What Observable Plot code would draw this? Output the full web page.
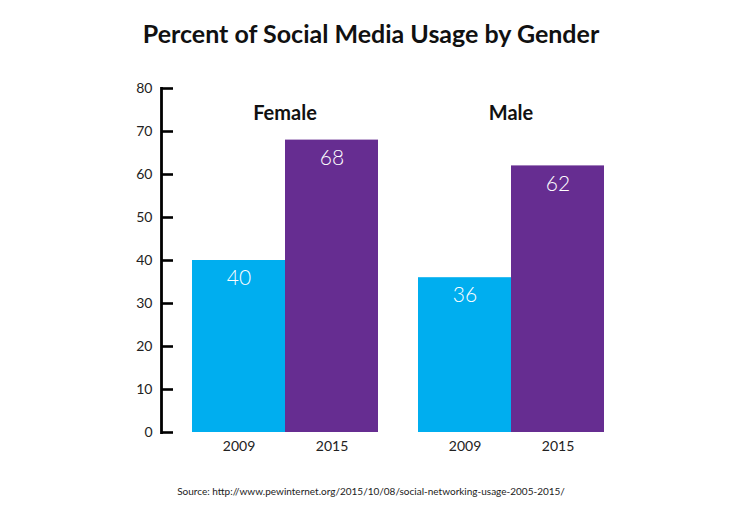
<!DOCTYPE html>
<html>
<head>
<meta charset="utf-8">
<script src="https://cdn.jsdelivr.net/npm/d3@7"></script>
<script src="https://cdn.jsdelivr.net/npm/@observablehq/plot@0.6"></script>
<style>
  body { margin: 0; background: #fff; font-family: Lato, "Open Sans", sans-serif; }
  #title { height: 66px; line-height: 66px; text-align: center; font-size: 25px; font-weight: 700; color: #111; }
  #caption { line-height: 50px; text-align: center; font-size: 10px; color: #222; }
  svg { display: block; }
</style>
</head>
<body>
<div id="title">Percent of Social Media Usage by Gender</div>
<div id="chart"></div>
<div id="caption">Source: http://www.pewinternet.org/2015/10/08/social-networking-usage-2005-2015/</div>
<script>
const genders = ["Female", "Male"];
const years = ["2009", "2015"];
const femaleValues = [40, 68];
const maleValues = [36, 62];
const yTicks = [0, 10, 20, 30, 40, 50, 60, 70, 80];
const colors = ["#00AEEF", "#662D91"];

const rows = [];
genders.forEach((g, gi) => {
  const vals = gi === 0 ? femaleValues : maleValues;
  years.forEach((yr, yi) => rows.push({gender: g, year: yr, value: vals[yi]}));
});

const chart = Plot.plot({
  width: 742,
  height: 400,
  marginTop: 22,
  marginBottom: 34,
  marginLeft: 191,
  marginRight: 137,
  style: {fontFamily: "Lato, 'Open Sans', sans-serif", fontSize: "14px", color: "#222"},
  fx: {domain: genders, paddingInner: 0.172, paddingOuter: 0, axis: null},
  x: {domain: years, padding: 0},
  y: {domain: [0, 80]},
  color: {domain: years, range: colors},
  marks: [
    Plot.barY(rows, {fx: "gender", x: "year", y: "value", fill: "year"}),
    Plot.text(rows, {fx: "gender", x: "year", y: "value", text: d => String(d.value), fill: "white", fontSize: 21, fontWeight: 300, dy: 18}),
    Plot.text(genders, {fx: d => d, text: d => d, frameAnchor: "top", dy: 17, fontSize: 20, fontWeight: 700, fill: "#111"}),
    Plot.axisX({tickSize: 0, tickPadding: 9, fontSize: 14, fill: "#222", label: null}),
    Plot.axisY({ticks: yTicks, tickSize: -12, tickPadding: 21, dx: -30, strokeWidth: 2.6, stroke: "#000", fontSize: 14, fill: "#222", label: null}),
    Plot.frame({anchor: "left", facetAnchor: "left", dx: -30, stroke: "#000", strokeWidth: 2.8})
  ]
});
document.getElementById("chart").appendChild(chart);
</script>
</body>
</html>
